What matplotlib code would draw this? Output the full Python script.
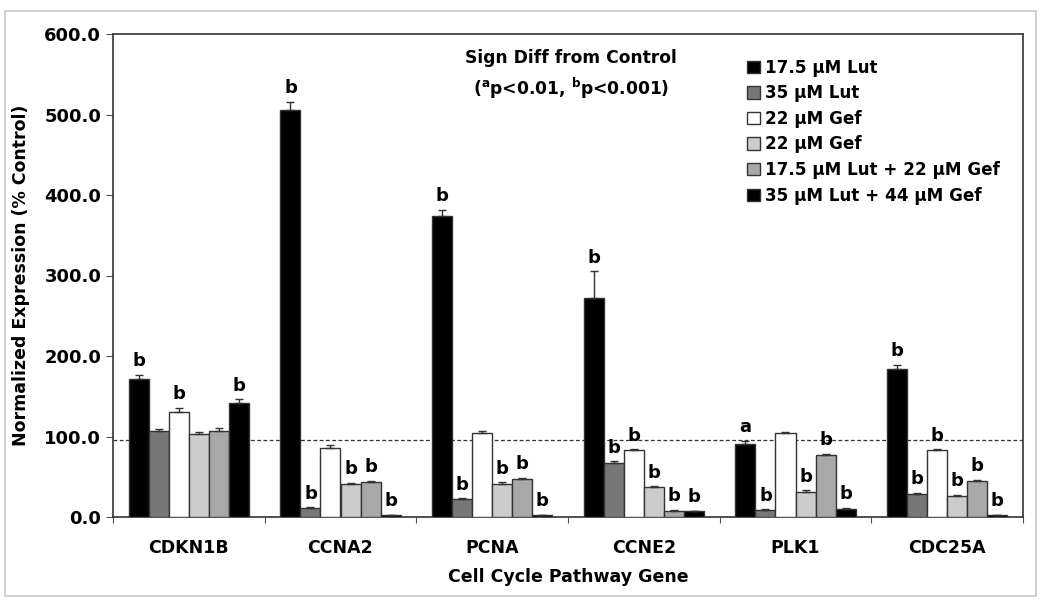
import numpy as np
import matplotlib.pyplot as plt
from matplotlib.patches import Rectangle

genes = ["CDKN1B", "CCNA2", "PCNA", "CCNE2", "PLK1", "CDC25A"]
series = ["17.5 µM Lut", "35 µM Lut", "22 µM Gef", "22 µM Gef",
          "17.5 µM Lut + 22 µM Gef", "35 µM Lut + 44 µM Gef"]
colors = ["#000000", "#777777", "#ffffff", "#cccccc", "#a8a8a8", "#000000"]

# rows = series, columns = genes
values = [
    [171, 506, 374, 272, 91, 184],
    [107, 11, 22, 67, 8.5, 28],
    [130, 86, 104, 83, 104, 83],
    [103, 41, 41, 37, 31, 26],
    [107, 43, 47, 7, 77, 45],
    [142, 2, 2, 7, 10, 2],
]
errors = [
    [6, 10, 7, 33, 3, 5],
    [2, 1, 1, 2, 1, 2],
    [6, 3, 3, 1, 2, 1],
    [2, 1, 2, 1, 2, 1],
    [3, 2, 2, 2, 1, 1],
    [4, 1, 1, 1, 1, 1],
]
signif = [
    ["b", "b", "b", "b", "a", "b"],
    ["", "b", "b", "b", "b", "b"],
    ["b", "", "", "b", "", "b"],
    ["", "b", "b", "b", "b", "b"],
    ["", "b", "b", "b", "b", "b"],
    ["b", "b", "b", "b", "b", "b"],
]
control_line = 95.5

plt.rcParams['font.family'] = ['DejaVu Sans']
plt.rcParams['font.weight'] = 'bold'

fig = plt.figure(figsize=(10.5, 6.08), dpi=100)
# light grey outer frame
fig.patches.append(Rectangle((5 / 1050, 12 / 608), 1031 / 1050, 585 / 608,
                             transform=fig.transFigure, fill=False,
                             edgecolor="#c8c8c8", linewidth=1.2))
ax = fig.add_axes([113 / 1050, 91 / 608, 910 / 1050, 483 / 608])

x = np.arange(len(genes))
width = 0.132
n = len(series)
for i in range(n):
    pos = x + (i - (n - 1) / 2) * width
    err = [np.zeros(len(genes)), errors[i]]
    ax.bar(pos, values[i], width, color=colors[i], edgecolor="#333333",
           linewidth=1.0, label=series[i], zorder=3)
    ax.errorbar(pos, values[i], yerr=err, fmt="none", ecolor="#333333",
                elinewidth=1.0, capsize=3, capthick=1.0, zorder=4)
    for j in range(len(genes)):
        if signif[i][j]:
            ax.text(pos[j], values[i][j] + errors[i][j] + 6, signif[i][j],
                    ha="center", va="bottom", fontsize=13, fontweight="bold")

ax.axhline(control_line, color="#333333", linestyle=(0, (3, 2)), linewidth=0.9, zorder=2)

ax.set_xlim(-0.5, len(genes) - 0.5)
ax.set_ylim(0, 600)
ax.set_yticks(np.arange(0, 601, 100))
ax.set_yticklabels([f"{v:.1f}" for v in np.arange(0, 601, 100)], fontsize=13, fontweight="bold")
ax.set_xticks(np.arange(-0.5, len(genes), 1.0))
ax.set_xticklabels([])
ax.set_xticks(x, minor=True)
ax.set_xticklabels(genes, minor=True, fontsize=12.5, fontweight="bold")
ax.tick_params(axis="x", which="minor", length=0, pad=16)
ax.tick_params(axis="x", which="major", length=4, color="#555555")
ax.tick_params(axis="y", length=5, color="#555555")
for s in ax.spines.values():
    s.set_color("#333333")
    s.set_linewidth(1.2)

ax.set_xlabel("Cell Cycle Pathway Gene", fontsize=12.5, fontweight="bold", labelpad=8)
ax.set_ylabel("Normalized Expression (% Control)", fontsize=12.5, fontweight="bold", labelpad=10)

ax.text(0.503, 0.95, "Sign Diff from Control", transform=ax.transAxes,
        ha="center", va="center", fontsize=12.3, fontweight="bold")
ax.text(0.503, 0.887, r"($^{\mathbf{a}}$p<0.01, $^{\mathbf{b}}$p<0.001)", transform=ax.transAxes,
        ha="center", va="center", fontsize=12.3, fontweight="bold")

ax.legend(loc="upper left", bbox_to_anchor=(0.68, 0.98), frameon=False,
          handlelength=0.75, handleheight=0.75, handletextpad=0.35,
          labelspacing=0.45, prop={"size": 12.1, "weight": "bold"})

fig.savefig("out.png", dpi=100)
